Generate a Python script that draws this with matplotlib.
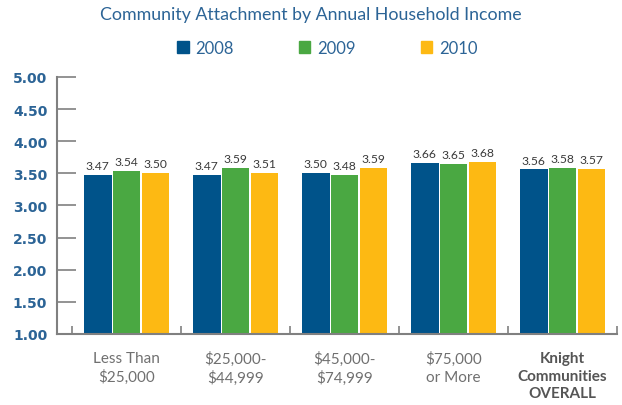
import matplotlib.pyplot as plt
import numpy as np
from matplotlib.patches import Patch

categories = ["Less Than\n$25,000", "$25,000-\n$44,999", "$45,000-\n$74,999",
              "$75,000\nor More", "Knight\nCommunities\nOVERALL"]
years = ["2008", "2009", "2010"]
vals_2008 = [3.47, 3.47, 3.50, 3.66, 3.56]
vals_2009 = [3.54, 3.59, 3.48, 3.65, 3.58]
vals_2010 = [3.50, 3.51, 3.59, 3.68, 3.57]
y_ticks = [1.00, 1.50, 2.00, 2.50, 3.00, 3.50, 4.00, 4.50, 5.00]

colors = ["#00538a", "#4aa842", "#fdb913"]
blue_text = "#2c6496"

plt.rcParams['font.family'] = ['Lato', 'DejaVu Sans']

fig = plt.figure(figsize=(6.22, 4.06), dpi=100)
ax = fig.add_axes([0.0916, 0.175, 0.9004, 0.633])

x = np.arange(len(categories))
width = 0.255
offsets = [-0.265, 0, 0.265]
series = [vals_2008, vals_2009, vals_2010]

for vals, off, col, yr in zip(series, offsets, colors, years):
    bars = ax.bar(x + off, np.array(vals) - 1.0, width, bottom=1.0, color=col, label=yr)
    for b, v in zip(bars, vals):
        ax.text(b.get_x() + b.get_width() / 2, v + 0.06, f"{v:.2f}",
                ha='center', va='bottom', fontsize=8.7, color='#3a3a3a')

ax.set_ylim(1.0, 5.0)
ax.set_xlim(-0.638, 4.5)
ax.set_yticks(y_ticks)
ax.set_yticklabels([f"{t:.2f}" for t in y_ticks], fontweight='bold',
                   color=blue_text, family=['DejaVu Sans'], fontsize=10)
ax.tick_params(axis='y', direction='in', length=14, width=1.2, color='#808080', pad=7)

# category boundary ticks on the x axis
ax.set_xticks(np.arange(-0.5, len(categories), 1.0))
ax.set_xticklabels([])
ax.tick_params(axis='x', direction='in', length=6, width=1.2, color='#808080')

for i, lab in enumerate(categories):
    bold = i == len(categories) - 1
    ax.text(i, 0.74, lab, ha='center', va='top', fontsize=11, linespacing=1.35,
            color='#555555' if bold else '#707070',
            fontweight='bold' if bold else 'normal', transform=ax.transData,
            clip_on=False)

for side in ['top', 'right']:
    ax.spines[side].set_visible(False)
for side in ['left', 'bottom']:
    ax.spines[side].set_color('#808080')
    ax.spines[side].set_linewidth(1.5)

fig.text(0.5, 0.963, "Community Attachment by Annual Household Income",
         ha='center', va='center', fontsize=12.8, color=blue_text)

handles = [Patch(color=c) for c in colors]
fig.legend(handles, years, loc='center', bbox_to_anchor=(0.526, 0.88), ncol=3,
           frameon=False, fontsize=12, handlelength=0.7, handleheight=0.7,
           handletextpad=0.4, columnspacing=3.9, labelcolor=blue_text)

fig.savefig("out.png", dpi=100)
